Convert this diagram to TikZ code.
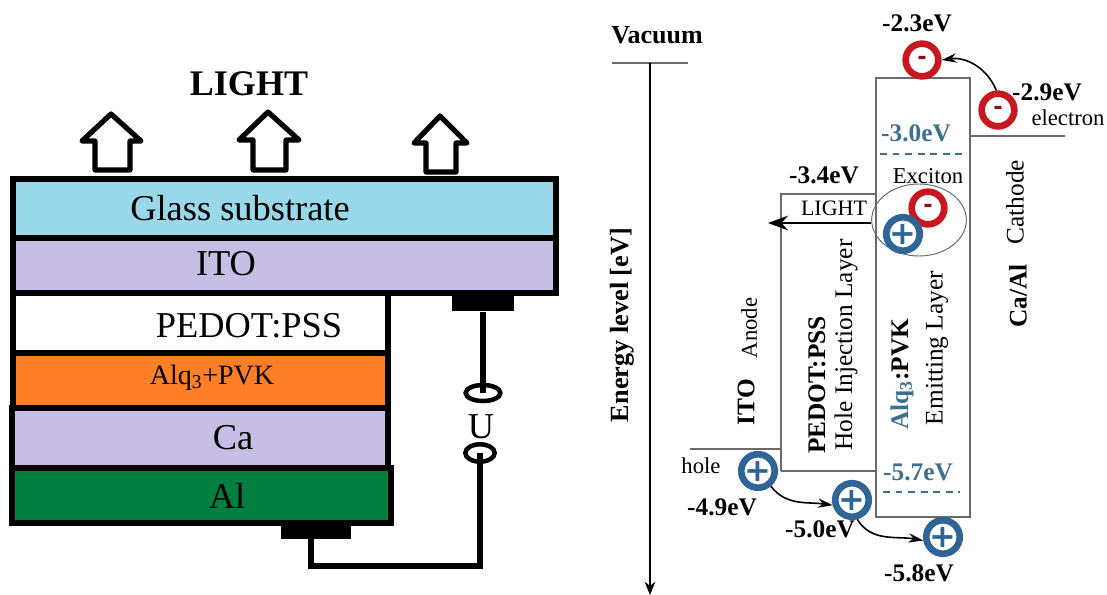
\documentclass[tikz,border=0pt]{standalone}
\usepackage{fontspec}
\setmainfont{Liberation Serif}
\setsansfont{DejaVu Sans}
\usetikzlibrary{arrows.meta,shapes.geometric}
\definecolor{glassblue}{HTML}{99D8E9}
\definecolor{itolilac}{HTML}{C6BEE4}
\definecolor{alqorange}{HTML}{FF7F27}
\definecolor{algreen}{HTML}{017F41}
\definecolor{chargered}{HTML}{C8171F}
\definecolor{chargeblue}{HTML}{2F6496}
\definecolor{levelblue}{HTML}{3F6F8F}
\definecolor{boxgray}{HTML}{6A6A6A}
\tikzset{
  layer/.style={draw=black, line width=4.5pt, line join=miter},
  blockarrow/.style={draw=black, fill=white, line width=3.9pt, line join=round},
  pad/.style={fill=black, inner sep=0pt},
  wire/.style={draw=black, line width=3.9pt},
  terminal/.style={ellipse, draw=black, line width=3.4pt, inner sep=0pt},
  lay/.style={font=\fontsize{27.3}{27.3}\selectfont},
  level/.style={font=\bfseries\fontsize{19}{19}\selectfont},
  side/.style={font=\fontsize{19}{19}\selectfont, rotate=90},
  sidebold/.style={font=\bfseries\fontsize{19}{19}\selectfont, rotate=90},
  small/.style={font=\fontsize{17}{17}\selectfont},
  band/.style={draw=boxgray, line width=1.1pt},
  dashlevel/.style={draw=levelblue, line width=2.1pt, dash pattern=on 5.2pt off 4.2pt},
  minusring/.style={circle, draw=chargered, line width=5pt, minimum size=24.5pt, inner sep=0pt, text=chargered!70!black, font=\sffamily\bfseries\fontsize{17}{17}\selectfont},
  plusring/.style={circle, draw=chargeblue, line width=5pt, minimum size=24.5pt, inner sep=0pt, text=chargeblue, font=\sffamily\bfseries\fontsize{24}{24}\selectfont},
  hop/.style={draw=black, line width=1.2pt, -{Stealth[length=11pt,width=7pt]}},
}
\begin{document}
\begin{tikzpicture}[x=0.75pt,y=-0.75pt]
    \useasboundingbox (0,0) rectangle (1107,595);

    % Layer stack
    \draw[layer, fill=white] (13,293) rectangle (388,353);
    \draw[layer, fill=alqorange] (13,353) rectangle (388,408);
    \draw[layer, fill=itolilac] (12,408) rectangle (388,468);
    \draw[layer, fill=algreen] (12,468) rectangle (391,523);
    \draw[layer, fill=glassblue] (13,179) rectangle (556,238);
    \draw[layer, fill=itolilac] (13,238) rectangle (556,293);

    % Layer labels
    \node[lay] (glass) at (240,208) {Glass substrate};
    \node[lay] (ito) at (226,264) {ITO};
    \node[lay] (pedot) at (249,326) {PEDOT:PSS};
    \node[font=\fontsize{21}{21}\selectfont] (alq) at (212,378) {Alq\textsubscript{3}+PVK};
    \node[lay] (ca) at (233,438) {Ca};
    \node[lay] (al) at (227,496) {Al};

    % Light going out through the glass
    \node[font=\bfseries\fontsize{27}{27}\selectfont] (lighttop) at (249,84) {LIGHT};
    \draw[blockarrow] (111,114) -- (141,141) -- (130,141) -- (130,170) -- (95,170) -- (95,141) -- (82,141) -- cycle;
    \draw[blockarrow] (268,112) -- (299,140) -- (286,140) -- (286,170) -- (253,170) -- (253,140) -- (239,140) -- cycle;
    \draw[blockarrow] (440,116) -- (467,143) -- (456,143) -- (456,172) -- (426,172) -- (426,143) -- (414,143) -- cycle;

    % Contacts and voltage source
    \node[pad, minimum width=47pt, minimum height=14pt] (anodepad) at (483,302) {};
    \node[pad, minimum width=52pt, minimum height=11pt] (cathodepad) at (316,532) {};
    \node[terminal, minimum width=26pt, minimum height=12pt] (termtop) at (483,393) {};
    \node[terminal, minimum width=22pt, minimum height=13pt] (termbot) at (480,453) {};
    \node[lay] (volt) at (481,427) {U};
    \coordinate (wirefoot) at (311,566);
    \coordinate (padfoot) at (311,538);
    \draw[wire] (anodepad) -- (termtop.center);
    \draw[wire, line join=miter] (termbot.center) |- (wirefoot) -- (padfoot);

    % Energy axis
    \node[font=\bfseries\fontsize{19.5}{19.5}\selectfont] (vacuum) at (657,35) {Vacuum};
    \coordinate (vacleft) at (612,63);
    \coordinate (vacright) at (688,63);
    \coordinate (axistop) at (650,63);
    \coordinate (axisend) at (650,595);
    \draw[band] (vacleft) -- (vacright);
    \draw[black, line width=1pt, -{Stealth[length=10pt,width=8pt]}] (axistop) -- (axisend);
    \node[sidebold, font=\bfseries\fontsize{19.7}{19.7}\selectfont] (energy) at (622,325) {Energy level [eV]};

    % Bands
    \coordinate (itoright) at (781,449);
    \coordinate (itoleft) at (690,449);
    \coordinate (calleft) at (970,136);
    \coordinate (calright) at (1065,136);
    \draw[band] (781,471) -- (781,194) -- (876,194);
    \draw[band] (781,471) -- (876,471);
    \draw[band] (876,78) rectangle (970,517);
    \draw[band] (itoleft) -- (itoright);
    \draw[band] (calleft) -- (calright);
    \draw[dashlevel] (880,154) -- (965,154);
    \draw[dashlevel] (883,492) -- (960,492);

    % Electrons and holes
    \node[minusring] (etop) at (922,60) {-};
    \node[minusring] (ecath) at (998,110) {-};
    \node[minusring] (eexc) at (928,208) {-};
    \node[plusring] (hexc) at (903,234) {+};
    \node[plusring] (hito) at (758,471) {+};
    \node[plusring] (hpedot) at (852,500) {+};
    \node[plusring] (hemit) at (943,537) {+};
    \draw[hop] (ecath.95) to[out=112,in=8] (etop.east);
    \draw[hop] (hito.-50) to[out=-52,in=172] (hpedot.195);
    \draw[hop] (hpedot.-75) to[out=-58,in=170] (hemit.190);

    % Exciton
    \node[ellipse, draw=boxgray!70!chargeblue, line width=0.7pt, minimum width=71pt, minimum height=54pt] (exciton) at (919,220) {};
    \coordinate (lighttip) at (768,223);
    \draw[black, line width=1.2pt, -{Stealth[length=15pt,width=11pt]}] (exciton.west |- lighttip) -- (lighttip);
    \node[small] (excitonlabel) at (928,176) {Exciton};
    \node[font=\fontsize{16.5}{16.5}\selectfont] (lightlabel) at (834,208) {LIGHT};

    % Energy values
    \node[level] (valtop) at (917,23) {-2.3eV};
    \node[level] (valcath) at (1047,92) {-2.9eV};
    \node[small] (electron) at (1068,118) {electron};
    \node[level, text=levelblue] (vallumo) at (916,133) {-3.0eV};
    \node[level] (valpedot) at (824,175) {-3.4eV};
    \node[level, text=levelblue] (valhomo) at (918,472) {-5.7eV};
    \node[small] (hole) at (701,466) {hole};
    \node[level] (valito) at (722,507) {-4.9eV};
    \node[level] (valhil) at (820,529) {-5.0eV};
    \node[level] (valeml) at (919,573) {-5.8eV};

    % Rotated layer names
    \node[sidebold] (itoname) at (746,402) {ITO};
    \node[side, font=\fontsize{17}{17}\selectfont] (anode) at (749,328) {Anode};
    \node[sidebold] (pedotname) at (817,385) {PEDOT:PSS};
    \node[side] (hil) at (846,345) {Hole Injection Layer};
    \node[sidebold] (alqname) at (902,374) {\textcolor{levelblue}{Alq\textsubscript{3}}:PVK};
    \node[side] (eml) at (937,348) {Emitting Layer};
    \node[sidebold] (calname) at (1018,296) {Ca/Al};
    \node[side] (cathode) at (1015,202) {Cathode};
\end{tikzpicture}
\end{document}
